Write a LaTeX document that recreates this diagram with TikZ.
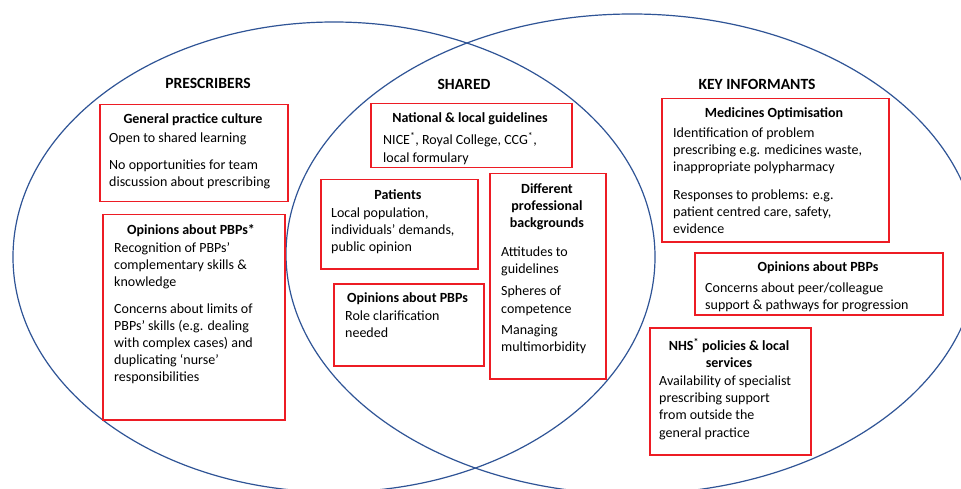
\documentclass[tikz,border=0pt]{standalone}
\usepackage{fontspec}
\setmainfont{Carlito}
\usetikzlibrary{shapes.geometric}
\definecolor{vblue}{RGB}{47,84,150}
\definecolor{bred}{RGB}{237,28,36}
\begin{document}
\begin{tikzpicture}[x=1pt,y=-1pt,
  rbox/.style={draw=bred, line width=1.5pt, anchor=north west, inner sep=0pt},
  hd/.style={font=\fontsize{14}{17}\selectfont\bfseries, align=center, inner sep=0pt},
  bd/.style={font=\fontsize{14}{17.2}\selectfont, align=left, anchor=north west, inner sep=0pt},
  ttl/.style={font=\fontsize{15.6}{18}\selectfont\bfseries, inner sep=0pt},
  venn/.style={ellipse, draw=vblue, line width=1.2pt, inner sep=0pt}]
\useasboundingbox (0,0) rectangle (961,489);
\clip (0,0) rectangle (961,489);
\fill[white] (0,0) rectangle (961,489);
% Venn ellipses
\node[venn, minimum width=642pt, minimum height=470pt] (pres) at (334,257) {};
\node[venn, minimum width=692pt, minimum height=480pt] (key) at (632,254) {};
% titles
\node[ttl] (tpres) at (208,83) {PRESCRIBERS};
\node[ttl] (tshared) at (464,84) {SHARED};
\node[ttl] (tkey) at (757,84) {KEY INFORMANTS};
% Prescribers boxes
\node[rbox, minimum width=188pt, minimum height=97pt] (gpc) at (99,104) {};
\node[hd] (gpch) at (193,120) {General practice culture};
\node[bd] (gpcb) at (109,132.5) {Open to shared learning\\[10pt]No opportunities for team\\discussion about prescribing};
\node[rbox, minimum width=182pt, minimum height=205pt] (opa) at (102,214) {};
\node[hd] (opah) at (191,231) {Opinions about PBPs*};
\node[bd] (opab) at (114,242.5) {Recognition of PBPs’\\complementary skills \&\\knowledge\\[9pt]Concerns about limits of\\PBPs’ skills (e.g. dealing\\with complex cases) and\\duplicating ‘nurse’\\responsibilities};
% Shared boxes
\node[rbox, minimum width=201pt, minimum height=64pt] (nlg) at (370,103) {};
\node[hd] (nlgh) at (470,119) {National \& local guidelines};
\node[bd] (nlgb) at (383,132.5) {NICE\textsuperscript{*}, Royal College, CCG\textsuperscript{*},\\local formulary};
\node[rbox, minimum width=157pt, minimum height=89pt] (pat) at (320,179) {};
\node[hd] (path) at (398,195) {Patients};
\node[bd] (patb) at (331,207.5) {Local population,\\individuals’ demands,\\public opinion};
\node[rbox, minimum width=150pt, minimum height=82pt] (opb) at (333,283) {};
\node[hd] (opbh) at (407.5,299) {Opinions about PBPs};
\node[bd] (opbb) at (345,310.5) {Role clarification\\needed};
\node[rbox, minimum width=116pt, minimum height=205pt] (dpb) at (489,173) {};
\node[hd] (dpbh) at (547,207) {Different\\professional\\backgrounds};
\node[bd] (dpbb) at (501,246.5) {Attitudes to\\guidelines\\[5pt]Spheres of\\competence\\[4pt]Managing\\multimorbidity};
% Key informant boxes
\node[rbox, minimum width=227pt, minimum height=143pt] (mo) at (661,98) {};
\node[hd] (moh) at (774,114) {Medicines Optimisation};
\node[bd] (mob) at (673,127.5) {Identification of problem\\prescribing e.g. medicines waste,\\inappropriate polypharmacy\\[10pt]Responses to problems: e.g.\\patient centred care, safety,\\evidence};
\node[rbox, minimum width=248pt, minimum height=62pt] (opc) at (694,252) {};
\node[hd] (opch) at (818,268) {Opinions about PBPs};
\node[bd] (opcb) at (705,282.5) {Concerns about peer/colleague\\support \& pathways for progression};
\node[rbox, minimum width=161pt, minimum height=127pt] (nhs) at (649,327) {};
\node[hd] (nhsh) at (729,353) {NHS\textsuperscript{*} policies \& local\\services};
\node[bd] (nhsb) at (659,375.5) {Availability of specialist\\prescribing support\\from outside the\\general practice};
\end{tikzpicture}
\end{document}
